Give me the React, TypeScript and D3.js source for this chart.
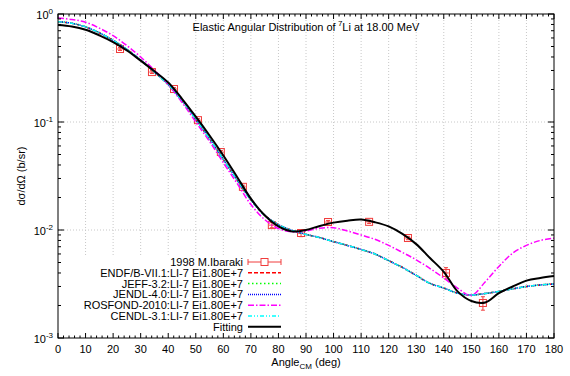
import React from "react";
import * as d3 from "d3";

// Angular grid used by the evaluated curves (degrees, CM frame)
const curveAngles = [
  0, 5, 10, 15, 20, 25, 30, 35, 40, 45, 50, 55, 60, 65, 70, 75, 80, 85, 90,
  95, 100, 105, 110, 115, 120, 125, 130, 135, 140, 145, 150, 155, 160, 165,
  170, 175, 180,
];

// ENDF/B-VII.1, JEFF-3.2, JENDL-4.0 and CENDL-3.1 share one evaluation
const endfValues = [
  0.85, 0.82, 0.76, 0.67, 0.57, 0.47, 0.375, 0.29, 0.222, 0.158, 0.106, 0.07,
  0.045, 0.029, 0.019, 0.0137, 0.0112, 0.0099, 0.0091, 0.0085, 0.0078, 0.0072,
  0.0066, 0.006, 0.0052, 0.0045, 0.0038, 0.0032, 0.0029, 0.0026, 0.0025,
  0.00258, 0.0027, 0.00285, 0.003, 0.0031, 0.00316,
];
const jeffValues = endfValues.slice();
const jendlValues = endfValues.slice();
const cendlValues = endfValues.slice();

const rosfondValues = [
  0.92, 0.89, 0.84, 0.74, 0.63, 0.51, 0.4, 0.302, 0.222, 0.152, 0.1, 0.066,
  0.042, 0.027, 0.0172, 0.0125, 0.0103, 0.0096, 0.0098, 0.0104, 0.0105, 0.0098,
  0.009, 0.0082, 0.0072, 0.0062, 0.0053, 0.0044, 0.0036, 0.0029, 0.00248,
  0.0033, 0.0046, 0.0061, 0.0072, 0.008, 0.0084,
];

const fitValues = [
  0.79, 0.765, 0.715, 0.635, 0.55, 0.46, 0.37, 0.295, 0.232, 0.164, 0.112,
  0.075, 0.049, 0.031, 0.0195, 0.0137, 0.0108, 0.0097, 0.01, 0.0109, 0.0117,
  0.0122, 0.0125, 0.0118, 0.0108, 0.0092, 0.0074, 0.0055, 0.0041, 0.0027,
  0.0022, 0.00213, 0.0026, 0.003, 0.0034, 0.0036, 0.00375,
];

// 1998 M.Ibaraki measurement
const expAngles = [22.5, 34.1, 42.1, 50.8, 59.1, 67.1, 77.6, 88.2, 98.0, 112.9, 127.0, 140.8, 154.2];
const expValues = [0.474, 0.29, 0.202, 0.104, 0.0527, 0.0251, 0.0111, 0.00938, 0.01186, 0.0119, 0.00843, 0.004, 0.00211];
const expErrors = [0.015, 0.009, 0.006, 0.0035, 0.0018, 0.0009, 0.0006, 0.0007, 0.0004, 0.0004, 0.0003, 0.00048, 0.0003];
const expAngleErr = [1, 1, 1, 1, 1, 1, 1, 1, 1, 1, 1, 1, 1];

const xTicks = d3.range(0, 181, 10);
const xMinorTicks = d3.range(0, 181, 2);
const yDecades = [0, -1, -2, -3];

const series = [
  { name: "ENDF/B-VII.1:LI-7 Ei1.80E+7", values: endfValues, color: "#ff0000", dash: "4,2", width: 1.5 },
  { name: "JEFF-3.2:LI-7 Ei1.80E+7", values: jeffValues, color: "#00ff00", dash: "1.5,2.5", width: 1.5 },
  { name: "JENDL-4.0:LI-7 Ei1.80E+7", values: jendlValues, color: "#0000ff", dash: "1,1", width: 1.5 },
  { name: "ROSFOND-2010:LI-7 Ei1.80E+7", values: rosfondValues, color: "#ff00ff", dash: "6,2,1.5,2", width: 1.5 },
  { name: "CENDL-3.1:LI-7 Ei1.80E+7", values: cendlValues, color: "#00ffff", dash: "4,2,1,2,1,2", width: 1.5 },
  { name: "Fitting", values: fitValues, color: "#000000", dash: "", width: 2 },
];

const W = 570;
const H = 376;
const left = 58;
const right = 554;
const top = 14;
const bottom = 338;

const x = d3.scaleLinear().domain([0, 180]).range([left, right]);
const y = d3.scaleLog().domain([1e-3, 1]).range([bottom, top]);

const font = "'Liberation Sans', Arial, Helvetica, sans-serif";
const markColor = "#f03c3c";

export default function App() {
  const line = d3
    .line<number>()
    .x((_, i) => x(curveAngles[i]))
    .y((v) => y(v))
    .curve(d3.curveCatmullRom.alpha(0.5));

  const yMinor: number[] = [];
  for (let e = -3; e < 0; e++) {
    for (let m = 2; m <= 9; m++) yMinor.push(m * Math.pow(10, e));
  }

  const legendTop = 262;
  const legendStep = 10.8;
  const lx0 = 248;
  const lx1 = 281;
  const textRight = 243;

  return (
    <svg
      width={W}
      height={H}
      style={{ position: "absolute", left: 0, top: 0, background: "#fff" }}
      fontFamily={font}
    >
      <rect x={0} y={0} width={W} height={H} fill="#fff" />
      {/* grid */}
      <g stroke="#c8c8c8" strokeWidth={1} strokeDasharray="1,2">
        {xTicks.slice(1, -1).map((t) => (
          <line key={"gx" + t} x1={x(t)} x2={x(t)} y1={top} y2={bottom} />
        ))}
        {[-1, -2].map((e) => (
          <line key={"gy" + e} x1={left} x2={right} y1={y(Math.pow(10, e))} y2={y(Math.pow(10, e))} />
        ))}
      </g>
      {/* legend background */}
      <rect x={left + 1} y={256} width={285 - left} height={bottom - 257} fill="#fff" />

      {/* measurement */}
      <g stroke={markColor} fill="none" strokeWidth={1}>
        {expAngles.map((a, i) => {
          const cx = x(a);
          const cy = y(expValues[i]);
          const yt = y(expValues[i] + expErrors[i]);
          const yb = y(expValues[i] - expErrors[i]);
          const xl = x(a - expAngleErr[i]);
          const xr = x(a + expAngleErr[i]);
          return (
            <g key={"p" + i}>
              <line x1={cx} x2={cx} y1={yt} y2={yb} />
              <line x1={cx - 2} x2={cx + 2} y1={yt} y2={yt} />
              <line x1={cx - 2} x2={cx + 2} y1={yb} y2={yb} />
              <line x1={xl} x2={xr} y1={cy} y2={cy} />
              <rect x={cx - 3.5} y={cy - 3.5} width={7} height={7} />
            </g>
          );
        })}
      </g>

      {/* curves */}
      {series.map((s) => (
        <path
          key={s.name}
          d={line(s.values) || ""}
          fill="none"
          stroke={s.color}
          strokeWidth={s.width}
          strokeDasharray={s.dash || undefined}
        />
      ))}

      {/* frame and ticks */}
      <rect x={left} y={top} width={right - left} height={bottom - top} fill="none" stroke="#000" strokeWidth={1} />
      <g stroke="#000" strokeWidth={1}>
        {xMinorTicks.map((t) => {
          const major = t % 10 === 0;
          const len = major ? 5 : 2.5;
          return (
            <g key={"xt" + t}>
              <line x1={x(t)} x2={x(t)} y1={bottom} y2={bottom - len} />
              <line x1={x(t)} x2={x(t)} y1={top} y2={top + len} />
            </g>
          );
        })}
        {yDecades.map((e) => (
          <g key={"yt" + e}>
            <line x1={left} x2={left + 6} y1={y(Math.pow(10, e))} y2={y(Math.pow(10, e))} />
            <line x1={right} x2={right - 6} y1={y(Math.pow(10, e))} y2={y(Math.pow(10, e))} />
          </g>
        ))}
        {yMinor.map((v, i) => (
          <g key={"ym" + i}>
            <line x1={left} x2={left + 3} y1={y(v)} y2={y(v)} />
            <line x1={right} x2={right - 3} y1={y(v)} y2={y(v)} />
          </g>
        ))}
      </g>

      {/* tick labels */}
      <g fontSize={11} fill="#000">
        {xTicks.map((t) => (
          <text key={"xl" + t} x={x(t)} y={bottom + 15} textAnchor="middle">
            {t}
          </text>
        ))}
        {yDecades.map((e) => (
          <text key={"yl" + e} x={53} y={y(Math.pow(10, e)) + 5} textAnchor="end">
            10
            <tspan dy={-5} fontSize={8}>
              {e}
            </tspan>
          </text>
        ))}
      </g>

      {/* axis titles */}
      <text
        x={25}
        y={(top + bottom) / 2}
        fontSize={11}
        textAnchor="middle"
        transform={`rotate(-90, 25, ${(top + bottom) / 2})`}
      >
        dσ/dΩ (b/sr)
      </text>
      <text x={(left + right) / 2} y={366} fontSize={11} textAnchor="middle">
        Angle
        <tspan fontSize={8} dy={3}>CM</tspan>
        <tspan dy={-3}> (deg)</tspan>
      </text>
      <text x={306} y={31} fontSize={11} textAnchor="middle">
        Elastic Angular Distribution of
        <tspan fontSize={8} dy={-5}> 7</tspan>
        <tspan dy={5}>Li at 18.00 MeV</tspan>
      </text>

      {/* legend */}
      <g fontSize={11}>
        <text x={textRight} y={legendTop + 4} textAnchor="end">
          1998 M.Ibaraki
        </text>
        <g stroke={markColor} fill="none" strokeWidth={1}>
          <line x1={lx0} x2={lx1} y1={legendTop} y2={legendTop} />
          <line x1={lx0} x2={lx0} y1={legendTop - 3} y2={legendTop + 3} />
          <line x1={lx1} x2={lx1} y1={legendTop - 3} y2={legendTop + 3} />
          <rect x={(lx0 + lx1) / 2 - 3.5} y={legendTop - 3.5} width={7} height={7} fill="#fff" />
        </g>
        {series.map((s, i) => {
          const ly = legendTop + legendStep * (i + 1);
          return (
            <g key={"lg" + s.name}>
              <text x={textRight} y={ly + 4} textAnchor="end">
                {s.name}
              </text>
              <line
                x1={lx0}
                x2={lx1}
                y1={ly}
                y2={ly}
                stroke={s.color}
                strokeWidth={s.width}
                strokeDasharray={s.dash || undefined}
              />
            </g>
          );
        })}
      </g>
    </svg>
  );
}
